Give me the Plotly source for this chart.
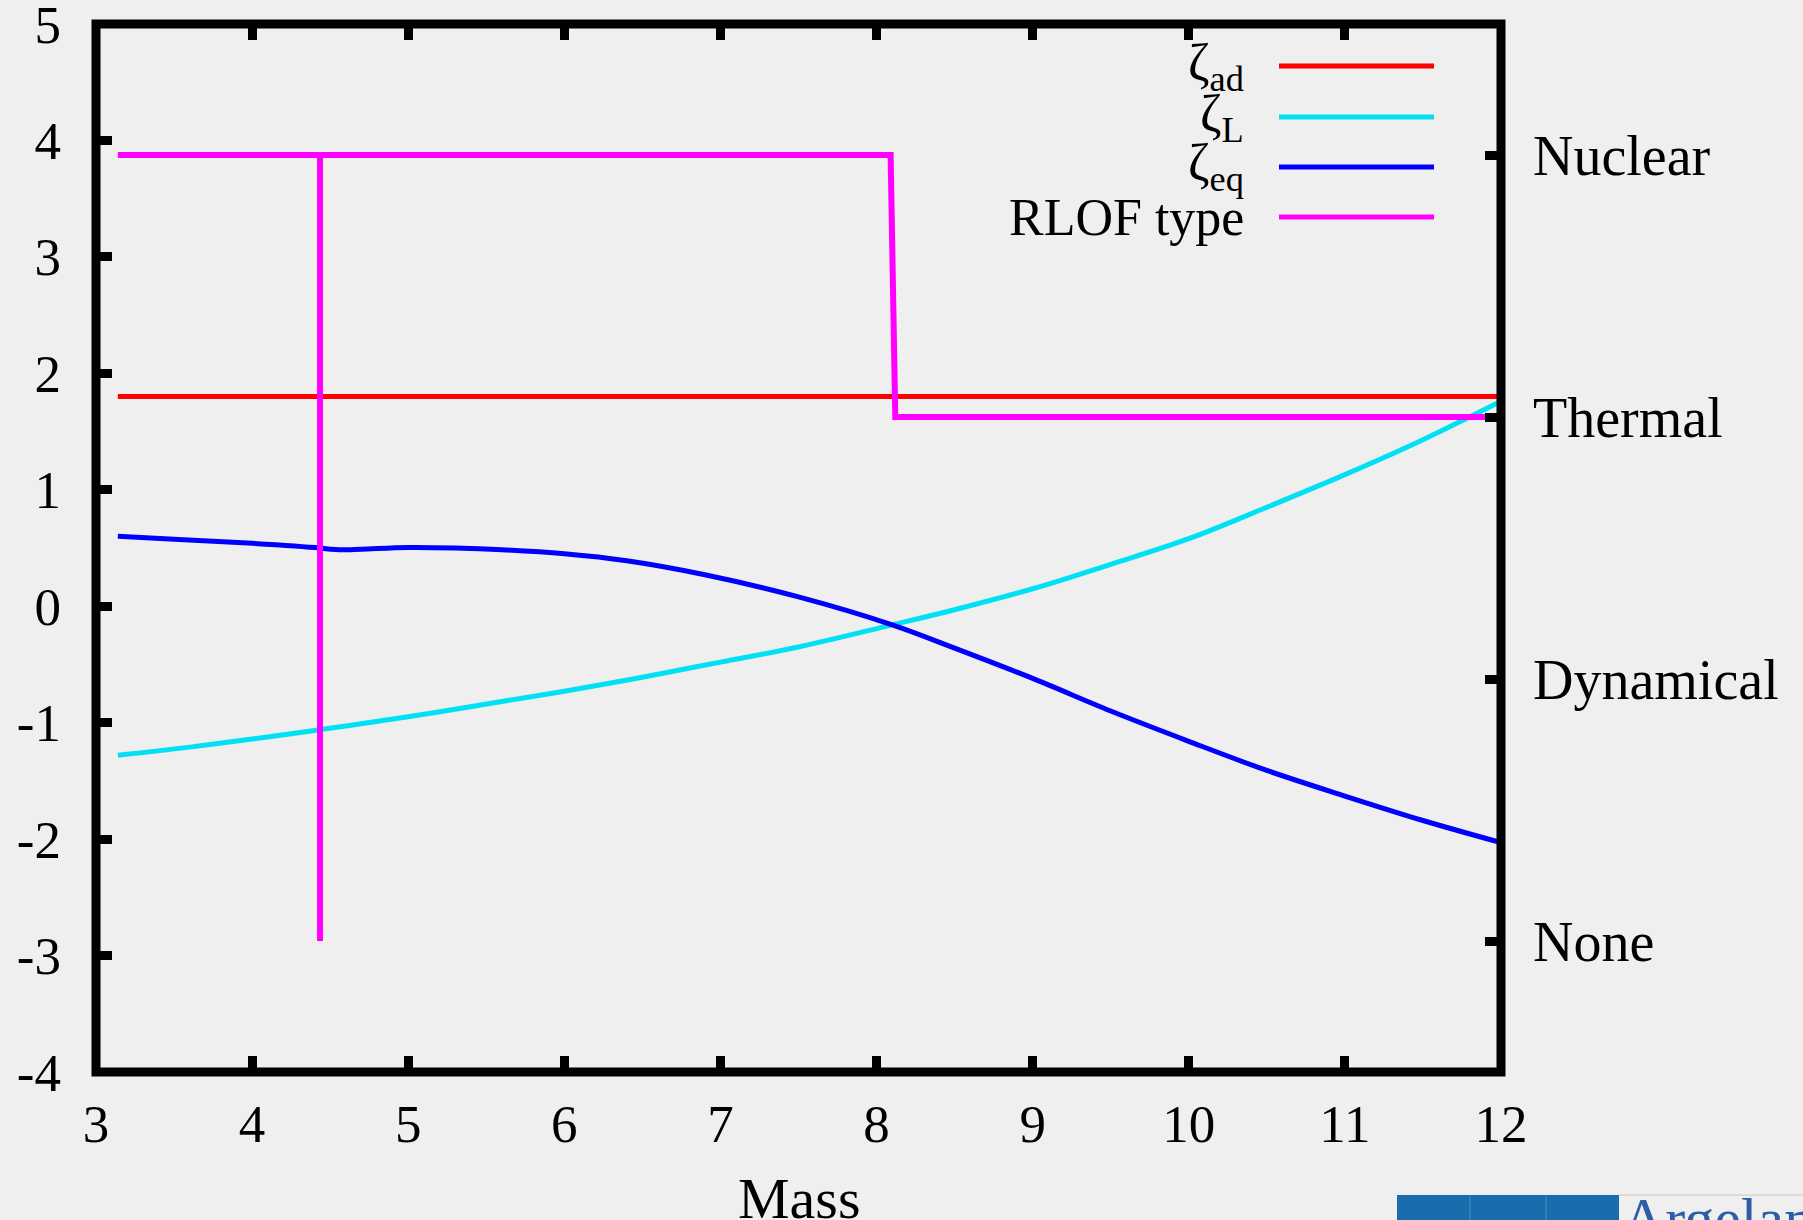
import plotly.graph_objects as go

# ---- data ----
mass_ad = [3.14, 12.0]
zeta_ad = [1.8, 1.8]

mass_L = [3.14, 3.6, 4.0, 4.435, 5.0, 5.59, 6.0, 6.5, 7.0, 7.5, 8.1, 8.5, 9.0, 9.5, 10.0, 10.5, 11.0, 11.5, 12.0]
zeta_L = [-1.28, -1.21, -1.14, -1.06, -0.95, -0.82, -0.73, -0.61, -0.48, -0.35, -0.16, -0.03, 0.15, 0.36, 0.58, 0.85, 1.13, 1.43, 1.76]

mass_eq = [3.14, 3.5, 4.0, 4.435, 4.5, 4.56, 4.7, 5.0, 5.3, 5.6, 6.0, 6.4, 6.9, 7.5, 8.1, 8.5, 9.0, 9.5, 10.0, 10.5, 11.0, 11.5, 12.0]
zeta_eq = [0.60, 0.575, 0.54, 0.50, 0.49, 0.485, 0.49, 0.505, 0.50, 0.485, 0.45, 0.39, 0.27, 0.08, -0.16, -0.36, -0.62, -0.90, -1.16, -1.41, -1.63, -1.84, -2.03]

mass_rlof = [3.14, 4.435, 4.435, 4.435, 8.09, 8.12, 12.0]
rlof_type = [3, 3, 0, 3, 3, 2, 2]

rlof_vals = [0, 1, 2, 3]
rlof_names = ["None", "Dynamical", "Thermal", "Nuclear"]

x_ticks = list(range(3, 13))
x_labels = [str(v) for v in x_ticks]
y_ticks = list(range(-4, 6))
y_labels = [str(v) for v in y_ticks]   # plain hyphen minus, as in the reference

x_title = "Mass"
legend_labels = ["ζ<sub>ad</sub>", "ζ<sub>L</sub>", "ζ<sub>eq</sub>", "RLOF type"]
colors = ["#ff0000", "#00e1f5", "#0000ff", "#ff00ff"]

FONT = "Liberation Serif"
BG = "#efefef"

fig = go.Figure()
fig.add_trace(go.Scatter(x=mass_rlof, y=rlof_type, yaxis="y2", mode="lines",
                         line=dict(color=colors[3], width=6), showlegend=False, name="RLOF type"))
fig.add_trace(go.Scatter(x=mass_ad, y=zeta_ad, mode="lines",
                         line=dict(color=colors[0], width=5), showlegend=False, name="ζad"))
fig.add_trace(go.Scatter(x=mass_L, y=zeta_L, mode="lines", line_shape="spline",
                         line=dict(color=colors[1], width=5), showlegend=False, name="ζL"))
fig.add_trace(go.Scatter(x=mass_eq, y=zeta_eq, mode="lines", line_shape="spline",
                         line=dict(color=colors[2], width=5), showlegend=False, name="ζeq"))

L, R, T, B = 96, 302, 24, 148
W, H = 1803, 1220
pw, ph = W - L - R, H - T - B

def px2x(px):
    return (px - L) / pw

def py2y(py):
    return (H - B - py) / ph

tickfont = dict(family=FONT, size=53, color="black")
common = dict(showgrid=False, zeroline=False, showline=False, ticks="inside",
              ticklen=16, tickwidth=9, tickcolor="black",
              automargin=False, ticklabeloverflow="allow")

fig.update_layout(
    width=W, height=H,
    margin=dict(l=L, r=R, t=T, b=B),
    paper_bgcolor=BG, plot_bgcolor=BG,
    font=dict(family=FONT, color="black"),
    xaxis=dict(range=[3, 12], tickvals=x_ticks, ticktext=x_labels, mirror="ticks",
               tickfont=tickfont, ticklabelstandoff=16, **common),
    yaxis=dict(range=[-4, 5], tickvals=y_ticks, ticktext=y_labels, tickfont=tickfont,
               ticklabelstandoff=34, **common),
    yaxis2=dict(range=[-0.5, 3.5], tickvals=rlof_vals, ticktext=rlof_names,
                overlaying="y", side="right", ticklabelstandoff=31,
                tickfont=dict(family=FONT, size=56, color="black"), **common),
)

# x-axis title (placed as annotation so it can sit as low as in the reference)
fig.add_annotation(xref="paper", yref="paper", x=0.5, y=py2y(1198),
                   xanchor="center", yanchor="middle", showarrow=False,
                   text=x_title, font=dict(family=FONT, size=58, color="black"))

# frame
fig.add_shape(type="rect", xref="paper", yref="paper", x0=0, x1=1, y0=0, y1=1,
              line=dict(color="black", width=9), fillcolor="rgba(0,0,0,0)", layer="above")

# manual key (text left, line sample right, as in the reference)
key_y = [66, 117, 167, 217]
for lab, col, ky in zip(legend_labels, colors, key_y):
    fig.add_shape(type="line", xref="paper", yref="paper",
                  x0=px2x(1279), x1=px2x(1434), y0=py2y(ky), y1=py2y(ky),
                  line=dict(color=col, width=5))
    fig.add_annotation(xref="paper", yref="paper", x=px2x(1246), y=py2y(ky),
                       xanchor="right", yanchor="middle", showarrow=False,
                       text=lab, font=dict(family=FONT, size=52, color="black"))

# partial logo at bottom right
fig.add_shape(type="rect", xref="paper", yref="paper",
              x0=px2x(1397), x1=px2x(1619), y0=py2y(1195), y1=py2y(1230),
              line=dict(width=0), fillcolor="#1a6dad", layer="above")
for lx in [1470, 1546]:
    fig.add_shape(type="line", xref="paper", yref="paper",
                  x0=px2x(lx), x1=px2x(lx), y0=py2y(1196), y1=py2y(1230),
                  line=dict(color="#4a8cc4", width=1), layer="above")
fig.add_shape(type="line", xref="paper", yref="paper",
              x0=px2x(1619), x1=px2x(1810), y0=py2y(1195), y1=py2y(1195),
              line=dict(color="#c8c8c8", width=1), layer="above")
fig.add_annotation(xref="paper", yref="paper", x=px2x(1620), y=py2y(1184),
                   xanchor="left", yanchor="top", showarrow=False,
                   text="Argelander", font=dict(family=FONT, size=60, color="#2b5ea6"))

fig.write_html("out.html")
